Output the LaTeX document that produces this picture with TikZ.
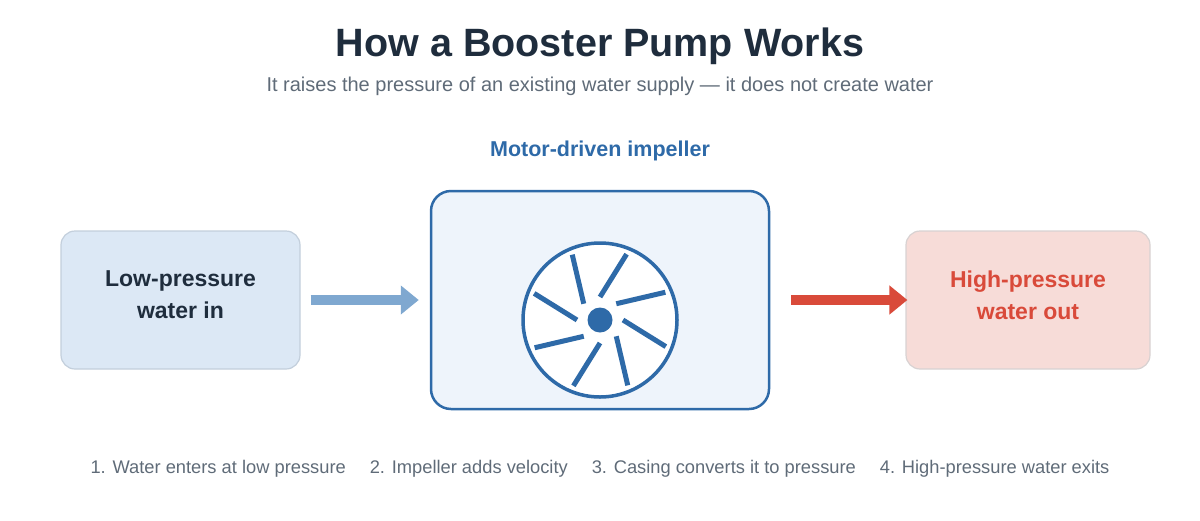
\documentclass[tikz,border=0pt]{standalone}
\usepackage{fontspec}
\setmainfont{Liberation Sans}
\usetikzlibrary{arrows.meta,calc}
\definecolor{dark}{HTML}{1F2D3D}
\definecolor{gray1}{HTML}{5F6B78}
\definecolor{blue1}{HTML}{2E6AA8}
\definecolor{lfill}{HTML}{DCE8F5}
\definecolor{lborder}{HTML}{C3CFDC}
\definecolor{mfill}{HTML}{EEF4FB}
\definecolor{rfill}{HTML}{F7DCD8}
\definecolor{rborder}{HTML}{D8D2D2}
\definecolor{red1}{HTML}{D94A3A}
\definecolor{arrblue}{HTML}{7FA8D0}
\begin{document}
\begin{tikzpicture}[x=1pt,y=-1pt,
  box/.style={rounded corners=14pt,line width=1.2pt,align=center,font=\bfseries\fontsize{23}{32}\selectfont},
  flow/.style={line width=10pt,-{Triangle[length=18pt,width=28pt]}},
  blade/.style={blue1,line width=5pt}]
\useasboundingbox (0,0) rectangle (1200,520);
\node[font=\bfseries\fontsize{39.5}{44}\selectfont,text=dark] (title) at (600,46) {How a Booster Pump Works};
\node[font=\fontsize{20}{24}\selectfont,text=gray1] (sub) at (600,86) {It raises the pressure of an existing water supply — it does not create water};
\node[font=\bfseries\fontsize{21.5}{26}\selectfont,text=blue1] (mlabel) at (600,151) {Motor-driven impeller};
\node[box,draw=lborder,fill=lfill,text=dark,minimum width=239pt,minimum height=138pt] (lbox) at (180.5,300) {Low-pressure\\water in\\[-22pt]};
\node[box,draw=blue1,fill=mfill,line width=2.5pt,rounded corners=20pt,minimum width=338pt,minimum height=218pt] (mbox) at (600,300) {};
\node[box,draw=rborder,fill=rfill,text=red1,minimum width=244pt,minimum height=138pt] (rbox) at (1028,300) {High-pressure\\water out\\[-22pt]};
\draw[flow,arrblue,shorten <=10pt,shorten >=11pt] (lbox.east) -- (mbox.west);
\draw[flow,red1,shorten <=21pt,shorten >=-2pt] (mbox.east) -- (rbox.west);
\coordinate (c) at (600,320);
\draw[blue1,line width=3.5pt,fill=white] (c) circle (77);
\fill[blue1] (c) circle (12.5);
\foreach \a in {0,45,...,315}
  \draw[blade] ($(c)+(\a:23)$) -- ($(c)+(\a+22:71)$);
\node[font=\fontsize{18.3}{22}\selectfont,text=gray1] (steps) at (600,469) {1. Water enters at low pressure\hspace{24pt}2. Impeller adds velocity\hspace{24pt}3. Casing converts it to pressure\hspace{24pt}4. High-pressure water exits};
\end{tikzpicture}
\end{document}
